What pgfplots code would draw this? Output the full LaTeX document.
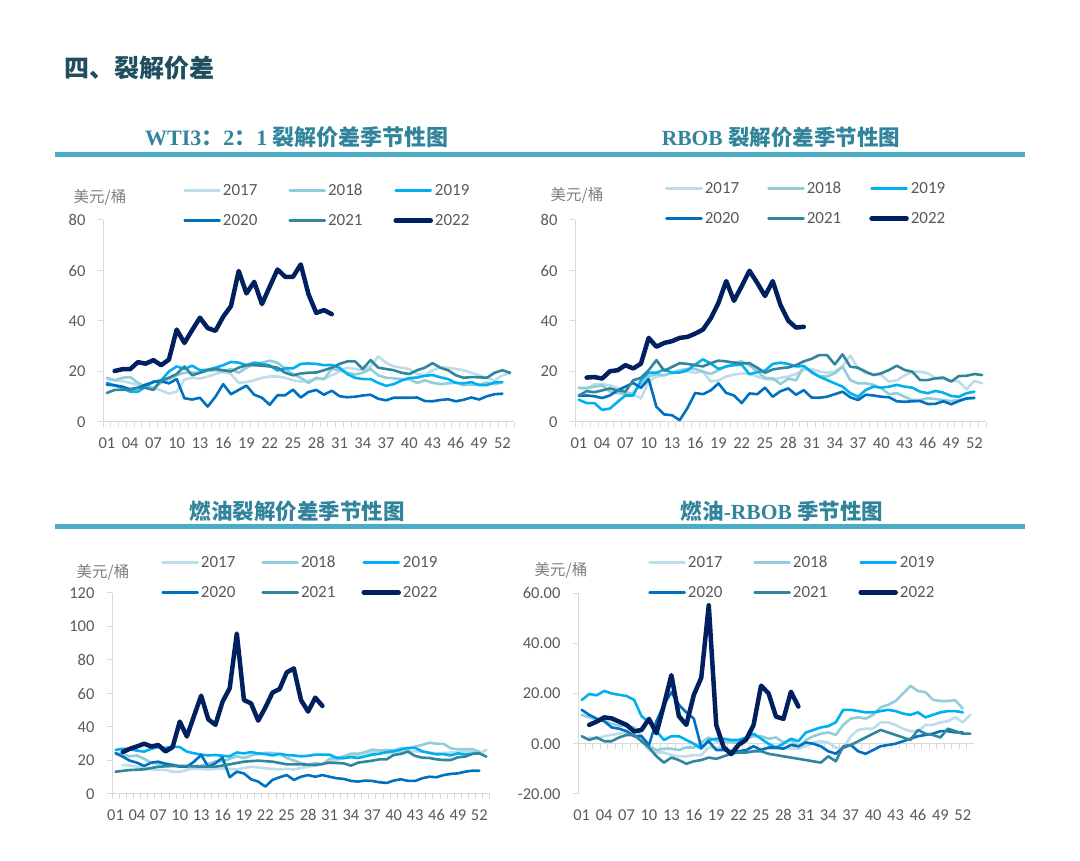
\documentclass[border=0pt]{standalone}
\usepackage{fontspec}
\usepackage{pgfplots}
\usepackage{pgfplotstable}
\pgfplotsset{compat=1.18}
\setmainfont{Carlito}
\newfontfamily\cjk{Noto Sans CJK SC}
\newfontfamily\lat{Liberation Serif}
\definecolor{c17}{HTML}{BDDDEA}
\definecolor{c18}{HTML}{92CDDC}
\definecolor{c19}{HTML}{00B0F0}
\definecolor{c20}{HTML}{0070C0}
\definecolor{c21}{HTML}{31859C}
\definecolor{c22}{HTML}{002060}
\definecolor{ticktxt}{HTML}{595959}
\definecolor{ylab}{HTML}{7F7F7F}
\definecolor{axgray}{HTML}{D9D9D9}
\definecolor{barc}{HTML}{4BACC6}
\definecolor{ttl}{HTML}{31849B}
\definecolor{maint}{HTML}{1F4E5F}

\pgfplotstableread{
w a b c d e f
1 17.2 17.5 15.5 14.8 11.5 nan
2 16.5 16.5 14.5 14.5 12.7 20.2
3 16.2 17.5 13.5 14.0 12.7 20.9
4 15.5 17.8 12.0 13.0 12.8 20.9
5 14.5 15.5 12.0 13.5 13.5 23.7
6 13.8 14.0 14.0 14.8 13.5 23.1
7 13.5 13.5 16.0 15.8 12.7 24.5
8 12.5 15.5 16.5 16.2 16.5 22.5
9 11.2 17.0 20.0 15.3 17.5 24.7
10 12.0 18.5 22.0 17.0 19.0 36.6
11 16.8 19.5 21.0 9.4 22.0 31.3
12 17.5 19.5 22.3 8.9 18.5 36.4
13 17.2 19.5 20.5 9.6 19.5 41.3
14 18.0 20.5 20.7 6.1 20.5 37.2
15 19.0 20.5 21.5 10.0 21.0 36.1
16 19.8 20.0 22.5 15.0 20.5 41.7
17 19.0 21.0 23.8 11.0 20.0 45.9
18 15.5 19.5 23.5 12.7 21.5 59.8
19 15.8 21.5 22.5 14.4 22.5 50.9
20 16.5 23.0 23.5 10.8 22.5 55.5
21 17.5 23.5 23.0 9.6 22.3 46.7
22 18.0 24.3 22.4 6.8 22.0 53.6
23 18.0 23.5 20.4 10.6 21.5 60.4
24 17.5 21.0 21.3 10.6 19.5 57.5
25 16.5 19.0 21.2 12.8 18.5 57.5
26 16.0 17.5 23.0 9.7 19.2 62.4
27 16.3 15.5 23.2 11.9 19.5 50.6
28 17.0 17.5 23.0 12.7 19.6 43.2
29 17.0 17.0 22.5 10.8 20.5 44.3
30 18.5 21.0 22.6 12.4 21.5 42.7
31 20.0 20.5 21.5 10.2 23.0 nan
32 21.5 19.5 19.0 9.8 24.0 nan
33 21.0 18.8 17.5 10.0 24.0 nan
34 20.5 19.5 17.0 10.5 21.0 nan
35 22.0 21.0 17.0 10.8 24.5 nan
36 26.0 18.5 15.5 9.2 21.5 nan
37 23.5 17.5 14.3 8.6 21.0 nan
38 22.0 17.3 15.0 9.6 20.5 nan
39 21.5 17.0 16.4 9.6 19.5 nan
40 21.0 17.0 17.4 9.6 19.0 nan
41 19.0 15.5 17.6 9.7 20.5 nan
42 18.5 16.5 18.3 8.3 21.5 nan
43 20.5 15.5 18.6 8.2 23.3 nan
44 21.5 15.0 17.7 8.7 21.5 nan
45 21.5 15.3 17.0 9.0 20.5 nan
46 21.0 15.6 15.5 8.2 18.5 nan
47 20.5 14.6 15.3 8.8 17.5 nan
48 19.5 14.8 15.8 9.7 17.8 nan
49 18.5 14.8 14.6 8.9 17.7 nan
50 17.5 15.6 14.6 10.2 17.5 nan
51 16.5 15.0 15.7 11.0 19.5 nan
52 18.5 15.7 15.8 11.2 20.5 nan
53 19.3 nan nan nan 19.5 nan
}\wti

\pgfplotstableread{
w a b c d e f
1 13.5 13.5 8.8 10.3 10.5 nan
2 13.0 13.5 7.5 10.5 12.2 17.6
3 15.0 14.0 7.5 10.2 11.8 17.8
4 15.0 14.5 4.8 9.5 12.5 17.2
5 14.5 12.0 5.3 10.5 13.3 20.1
6 13.5 11.5 8.0 12.5 12.5 20.5
7 12.0 11.0 10.5 14.0 12.0 22.5
8 11.0 11.5 10.5 15.5 16.5 21.2
9 9.3 15.0 16.5 13.5 17.5 23.1
10 16.0 18.0 19.5 17.0 20.5 33.3
11 18.0 19.0 19.5 6.0 24.5 29.8
12 18.5 18.5 20.8 3.0 20.3 31.3
13 19.5 19.5 19.5 2.7 21.8 32.0
14 20.0 20.5 19.6 0.7 23.3 33.3
15 20.0 21.0 20.5 5.5 23.0 33.7
16 19.5 21.0 22.8 11.5 22.5 35.0
17 20.0 20.0 24.8 11.0 22.0 36.6
18 16.0 19.0 23.2 12.5 23.3 41.0
19 16.5 20.5 21.0 15.3 24.3 47.2
20 18.0 22.0 22.0 11.5 24.0 55.8
21 18.8 23.5 22.5 10.5 23.5 48.0
22 19.2 24.0 22.7 7.5 23.2 53.8
23 19.2 22.5 18.9 11.3 23.3 59.9
24 18.0 20.0 19.8 11.0 21.5 55.1
25 17.0 17.5 20.3 13.6 19.5 49.9
26 16.8 17.3 23.0 10.0 20.8 55.8
27 17.5 15.0 23.5 12.2 21.3 46.3
28 18.0 17.2 23.0 13.3 21.6 40.1
29 19.0 16.5 22.0 10.8 22.5 37.4
30 20.5 22.0 22.2 12.6 24.0 37.7
31 21.0 19.5 19.9 9.7 25.0 nan
32 20.0 18.0 18.0 9.6 26.5 nan
33 19.5 18.0 16.6 10.0 26.5 nan
34 20.0 19.3 15.3 11.0 22.8 nan
35 22.0 21.9 14.0 12.0 26.8 nan
36 26.3 16.6 11.4 9.8 21.9 nan
37 21.3 15.3 10.0 8.7 21.5 nan
38 19.3 15.3 12.7 10.8 19.9 nan
39 18.9 14.7 14.0 10.5 18.6 nan
40 18.6 13.3 13.6 10.0 19.3 nan
41 16.0 11.0 14.0 9.8 20.6 nan
42 16.5 11.4 14.7 8.2 22.3 nan
43 18.5 10.0 14.0 8.0 20.6 nan
44 19.9 8.7 13.6 8.2 19.9 nan
45 19.9 8.7 12.0 8.3 16.6 nan
46 19.3 9.4 11.4 7.1 16.6 nan
47 17.3 9.1 12.3 7.2 17.3 nan
48 17.0 8.7 11.6 8.2 17.6 nan
49 16.5 8.3 10.3 7.0 16.0 nan
50 16.0 8.7 10.0 8.3 18.2 nan
51 13.0 9.4 11.4 9.3 18.3 nan
52 16.3 9.6 12.0 9.5 19.0 nan
53 15.3 nan nan nan 18.6 nan
}\rbob

\pgfplotstableread{
w a b c d e f
1 nan 24.5 26.3 24.3 13.3 nan
2 17.3 23.5 27.0 22.3 13.8 25.0
3 17.0 22.5 26.7 19.9 14.3 27.0
4 16.3 23.0 25.9 18.7 14.5 28.4
5 15.5 21.0 25.3 16.7 14.7 30.0
6 14.7 18.7 27.0 18.7 15.5 28.4
7 14.5 18.0 28.0 19.3 16.3 29.2
8 14.3 18.5 27.5 17.9 16.5 25.4
9 13.3 17.5 28.3 17.3 16.7 28.0
10 13.3 16.5 28.0 16.3 16.7 43.2
11 14.3 16.0 25.3 16.3 16.7 34.3
12 15.3 16.5 24.3 19.3 16.5 46.6
13 15.0 17.0 23.5 23.3 16.3 58.7
14 14.7 18.0 23.0 16.3 16.3 44.6
15 15.0 19.5 23.3 18.3 16.3 41.3
16 15.3 19.5 22.8 21.7 17.0 55.1
17 15.0 21.0 22.5 10.0 17.7 63.1
18 14.7 22.5 24.8 13.3 18.5 95.8
19 15.5 21.5 24.2 12.3 19.3 56.1
20 16.3 23.0 25.0 8.8 19.6 54.1
21 15.8 24.0 24.2 7.4 19.9 43.8
22 15.3 24.5 23.8 4.4 19.6 51.6
23 15.0 24.5 23.0 8.4 19.3 60.5
24 14.7 23.8 24.0 10.0 18.5 62.7
25 15.0 21.5 23.2 11.3 17.7 72.6
26 14.7 20.0 23.0 8.4 17.7 75.0
27 15.5 18.5 22.5 10.3 17.7 56.1
28 16.3 17.5 22.8 11.3 17.5 49.2
29 17.0 18.5 23.5 10.3 17.3 57.5
30 17.9 17.5 23.5 11.3 18.0 52.6
31 19.0 21.0 23.5 10.3 18.7 nan
32 20.3 21.5 21.5 9.4 18.5 nan
33 21.3 22.5 21.5 9.0 18.3 nan
34 22.3 24.0 22.0 7.8 16.9 nan
35 23.3 24.0 21.5 7.4 18.7 nan
36 24.3 25.0 22.5 8.0 19.3 nan
37 24.8 26.5 23.5 7.8 19.9 nan
38 25.3 26.0 24.0 7.0 20.7 nan
39 24.8 26.3 25.0 6.6 20.7 nan
40 24.3 26.0 25.5 8.0 23.3 nan
41 25.0 27.3 26.5 8.8 23.9 nan
42 25.7 27.0 27.5 7.8 25.3 nan
43 25.5 28.3 27.5 7.8 22.7 nan
44 25.3 29.3 25.5 9.4 21.7 nan
45 24.8 30.6 24.5 10.3 21.5 nan
46 24.3 30.0 23.7 10.0 20.7 nan
47 24.5 29.9 23.8 11.3 20.3 nan
48 24.7 27.3 23.0 12.0 20.3 nan
49 25.0 26.7 24.3 12.3 21.9 nan
50 25.3 26.7 23.5 13.3 22.3 nan
51 25.0 26.7 24.0 13.9 23.9 nan
52 24.3 25.3 24.3 13.9 24.3 nan
53 26.3 nan nan nan 22.3 nan
}\fuel

\pgfplotstableread{
w a b c d e f
1 nan 11.5 17.4 13.5 3.0 nan
2 2.5 10.5 19.8 11.5 1.5 7.5
3 2.0 9.5 19.3 10.0 2.5 8.8
4 3.0 9.0 21.0 9.0 1.0 10.5
5 3.5 8.0 20.0 6.5 1.0 10.1
6 4.0 7.2 19.5 6.0 2.5 8.8
7 4.5 7.0 19.0 5.0 3.5 7.5
8 3.5 6.5 17.5 3.0 3.5 4.9
9 2.0 3.0 11.0 3.0 1.0 5.5
10 -2.5 -1.0 8.5 -0.5 -1.5 9.9
11 -3.5 -2.5 5.0 9.0 -5.0 4.2
12 -3.5 -2.0 1.5 15.5 -7.5 15.4
13 -4.5 -2.0 3.0 20.5 -5.5 27.3
14 -5.0 -2.5 3.0 15.5 -6.5 11.0
15 -5.0 -1.5 1.5 12.5 -8.0 7.5
16 -4.5 -1.5 0.0 10.0 -7.0 19.4
17 -4.5 0.5 -2.0 -1.5 -6.5 26.3
18 -1.5 2.5 1.5 1.0 -5.5 55.1
19 -1.5 1.0 2.0 -2.5 -6.0 7.5
20 -2.0 1.0 2.0 -2.5 -5.0 -1.4
21 -3.0 0.5 1.5 -3.0 -4.0 -4.1
22 -3.5 0.5 1.5 -3.0 -3.5 -0.4
23 -3.5 2.0 2.5 -2.5 -3.5 1.6
24 -3.0 3.0 4.0 -1.0 -3.0 7.5
25 -2.0 3.0 2.0 -2.5 -3.0 23.1
26 -2.0 2.0 0.0 -1.5 -4.0 20.1
27 -2.0 2.5 -1.5 -1.5 -4.5 10.8
28 -1.5 0.5 0.0 -2.0 -5.0 9.9
29 -2.0 1.5 2.0 -0.5 -5.5 20.7
30 -2.0 -1.5 1.0 -1.0 -6.0 14.8
31 -1.0 1.5 4.5 0.5 -6.5 nan
32 0.5 3.0 5.5 0.0 -7.0 nan
33 1.0 4.0 6.5 -1.0 -7.5 nan
34 0.5 4.5 7.0 -3.0 -5.0 nan
35 -1.5 3.5 8.5 -4.0 -7.0 nan
36 -2.0 7.5 13.5 -1.5 -1.0 nan
37 3.0 10.0 13.5 -0.5 -0.5 nan
38 5.5 10.5 13.0 -3.0 1.0 nan
39 6.0 10.0 12.5 -4.0 2.5 nan
40 6.0 11.5 12.5 -2.5 4.0 nan
41 8.5 14.5 13.0 -1.0 5.5 nan
42 8.5 15.5 13.5 -0.5 4.5 nan
43 7.5 17.0 13.0 0.0 3.5 nan
44 6.0 20.0 12.0 1.0 2.5 nan
45 5.0 23.0 11.5 2.0 1.5 nan
46 5.0 21.0 12.5 3.0 5.5 nan
47 7.5 20.5 10.5 3.5 4.0 nan
48 7.5 17.5 11.5 4.0 3.5 nan
49 8.5 17.0 12.5 5.0 2.5 nan
50 9.0 17.0 13.0 5.0 6.0 nan
51 10.5 17.3 13.0 4.5 5.0 nan
52 8.5 14.0 12.5 4.5 4.0 nan
53 11.5 nan nan nan 4.0 nan
}\spread

\pgfplotsset{
  panel/.style={
    scale only axis, anchor=south west,
    xmin=0.5, xmax=53.5,
    axis x line*=bottom, axis y line*=left,
    axis line style={draw=axgray, line width=1pt},
    tick style={draw=axgray, line width=1pt},
    tick align=outside, major tick length=5pt,
    xtick={0.5,1.5,...,53.5}, xticklabels={},
    extra x ticks={1,4,...,52},
    extra x tick labels={01,04,07,10,13,16,19,22,25,28,31,34,37,40,43,46,49,52},
    extra x tick style={major tick length=0pt},
    tick label style={font=\fontsize{16.5}{18}\selectfont, text=ticktxt},
    x tick label style={yshift=-12pt},
    y tick label style={xshift=-9pt},
    legend columns=3, legend cell align=left,
    legend style={draw=none, fill=none, inner sep=0pt, anchor=north west,
      font=\fontsize{17}{19}\selectfont, text=ticktxt,
      row sep=13pt,
      /tikz/every even column/.append style={column sep=29pt}},
    legend image code/.code={\draw[#1] (0pt,0pt) -- (35pt,0pt);},
    every axis plot/.append style={line width=2.6pt, line join=round, line cap=round},
  },
}

\begin{document}
\begin{tikzpicture}[x=1pt,y=1pt]
\path[use as bounding box] (0pt,0pt) rectangle (1080pt,861pt);
% main title
\node[anchor=west, inner sep=0pt, text=maint] at (64pt,793pt) {\fontsize{25}{28}\selectfont\cjk\bfseries 四、裂解价差};
% panel titles
\node[text=ttl, inner sep=0pt] at (297pt,724pt) {\fontsize{22}{24}\selectfont\bfseries\lat WTI3\cjk：\lat 2\cjk：\lat 1 \cjk 裂解价差季节性图};
\node[text=ttl, inner sep=0pt] at (781pt,724pt) {\fontsize{21.5}{24}\selectfont\bfseries\lat RBOB \cjk 裂解价差季节性图};
\node[text=ttl, inner sep=0pt] at (297pt,350pt) {\fontsize{21.5}{24}\selectfont\cjk\bfseries 燃油裂解价差季节性图};
\node[text=ttl, inner sep=0pt] at (782pt,350pt) {\fontsize{21.5}{24}\selectfont\bfseries\cjk 燃油\lat -RBOB \cjk 季节性图};
% bars
\draw[barc, line width=5pt] (55pt,706pt) -- (1025pt,706pt);
\draw[barc, line width=5pt] (55pt,334pt) -- (1025pt,334pt);
% unit labels
\node[text=ylab, inner sep=0pt] at (100pt,664pt) {\fontsize{15.5}{17}\selectfont\cjk 美元/桶};
\node[text=ylab, inner sep=0pt] at (577pt,666pt) {\fontsize{15.5}{17}\selectfont\cjk 美元/桶};
\node[text=ylab, inner sep=0pt] at (103pt,289pt) {\fontsize{15.5}{17}\selectfont\cjk 美元/桶};
\node[text=ylab, inner sep=0pt] at (561pt,291pt) {\fontsize{15.5}{17}\selectfont\cjk 美元/桶};

% Panel 1
\begin{axis}[panel, at={(103pt,439pt)}, width=411pt, height=202pt,
  ymin=0, ymax=80, ytick={0,20,...,80}, yticklabels={0,20,40,60,80},
  legend style={at={(axis description cs:0.195,1.188)}}]
\addplot[c17] table[x=w,y=a]{\wti};
\addplot[c18] table[x=w,y=b]{\wti};
\addplot[c19] table[x=w,y=c]{\wti};
\addplot[c20] table[x=w,y=d]{\wti};
\addplot[c21] table[x=w,y=e]{\wti};
\addplot[c22, line width=4.5pt] table[x=w,y=f]{\wti};
\legend{2017,2018,2019,2020,2021,2022}
\end{axis}

% Panel 2
\begin{axis}[panel, at={(575pt,439pt)}, width=411pt, height=202pt,
  ymin=0, ymax=80, ytick={0,20,...,80}, yticklabels={0,20,40,60,80},
  legend style={at={(axis description cs:0.219,1.198)},
    /tikz/every even column/.append style={column sep=26pt}}]
\addplot[c17] table[x=w,y=a]{\rbob};
\addplot[c18] table[x=w,y=b]{\rbob};
\addplot[c19] table[x=w,y=c]{\rbob};
\addplot[c20] table[x=w,y=d]{\rbob};
\addplot[c21] table[x=w,y=e]{\rbob};
\addplot[c22, line width=4.5pt] table[x=w,y=f]{\rbob};
\legend{2017,2018,2019,2020,2021,2022}
\end{axis}

% Panel 3
\begin{axis}[panel, at={(112pt,67pt)}, width=378pt, height=201pt,
  ymin=0, ymax=120, ytick={0,20,...,120}, yticklabels={0,20,40,60,80,100,120},
  legend style={at={(axis description cs:0.130,1.194)},
    /tikz/every even column/.append style={column sep=24pt}}]
\addplot[c17] table[x=w,y=a]{\fuel};
\addplot[c18] table[x=w,y=b]{\fuel};
\addplot[c19] table[x=w,y=c]{\fuel};
\addplot[c20] table[x=w,y=d]{\fuel};
\addplot[c21] table[x=w,y=e]{\fuel};
\addplot[c22, line width=4.5pt] table[x=w,y=f]{\fuel};
\legend{2017,2018,2019,2020,2021,2022}
\end{axis}

% Panel 4
\begin{axis}[panel, at={(578pt,67pt)}, width=396pt, height=201pt,
  ymin=-20, ymax=60, ytick={-20,0,...,60}, yticklabels={-20.00,0.00,20.00,40.00,60.00},
  xtick=\empty, x axis line style={draw=none},
  extra y ticks={0}, extra y tick labels={},
  extra y tick style={grid=major, major grid style={draw=axgray, line width=1pt}},
  legend style={at={(axis description cs:0.177,1.194)}}]
\pgfplotsinvokeforeach{0.5,1.5,...,53.5}{\draw[axgray, line width=1pt] (axis cs:#1,0) -- ++(0pt,-5pt);}
\addplot[c17] table[x=w,y=a]{\spread};
\addplot[c18] table[x=w,y=b]{\spread};
\addplot[c19] table[x=w,y=c]{\spread};
\addplot[c20] table[x=w,y=d]{\spread};
\addplot[c21] table[x=w,y=e]{\spread};
\addplot[c22, line width=4.5pt] table[x=w,y=f]{\spread};
\legend{2017,2018,2019,2020,2021,2022}
\end{axis}
\end{tikzpicture}
\end{document}
